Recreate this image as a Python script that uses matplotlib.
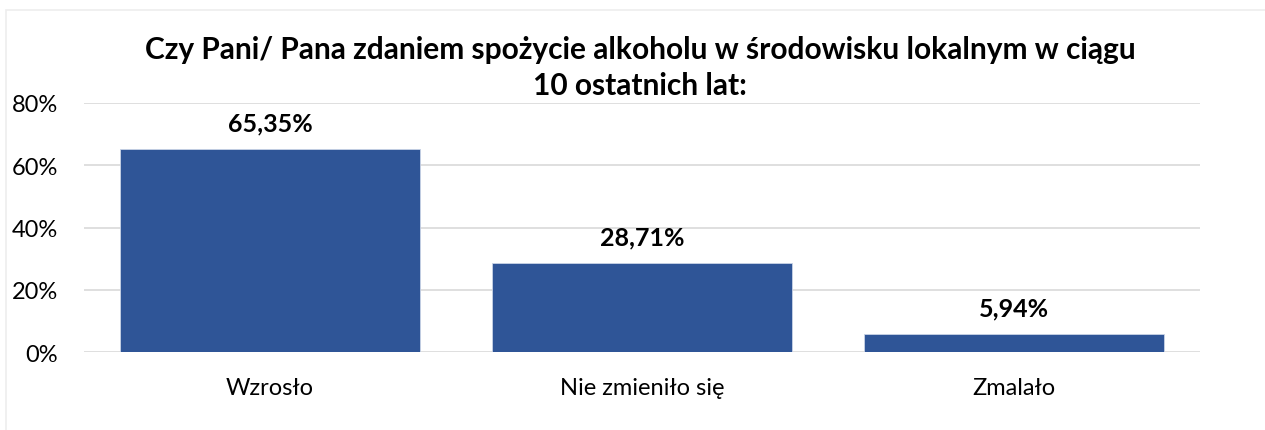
import matplotlib.pyplot as plt
from matplotlib.patches import Rectangle
from matplotlib.ticker import PercentFormatter

# survey data
categories = ['Wzrosło', 'Nie zmieniło się', 'Zmalało']
values = [65.35, 28.71, 5.94]
value_labels = ['65,35%', '28,71%', '5,94%']
title = 'Czy Pani/ Pana zdaniem spożycie alkoholu w środowisku lokalnym w ciągu\n10 ostatnich lat:'

bar_color = '#2F5597'
grid_color = '#D9D9D9'

plt.rcParams['font.family'] = ['Lato', 'DejaVu Sans']

fig = plt.figure(figsize=(12.65, 4.31), dpi=100)
# faint chart frame like the excel export
fig.patches.append(Rectangle((6 / 1265, -0.1), 1.1, 1 - 11 / 431 + 0.1,
                             transform=fig.transFigure, fill=False,
                             edgecolor='#EDEDED', linewidth=1.2))

ax = fig.add_axes([84 / 1265, 1 - 353 / 431, 1116 / 1265, (353 - 104) / 431])

x = range(len(categories))
bars = ax.bar(x, values, width=0.806, color=bar_color, edgecolor='#C9D3E6',
              linewidth=0.6, zorder=3)

for b, lbl in zip(bars, value_labels):
    ax.annotate(lbl, (b.get_x() + b.get_width() / 2, b.get_height()),
                xytext=(0, 13), textcoords='offset points', ha='center',
                va='baseline', fontsize=18, fontweight='bold', color='black')

ax.set_xlim(-0.5, len(categories) - 0.5)
ax.set_ylim(0, 80)
ax.set_yticks([0, 20, 40, 60, 80])
ax.yaxis.set_major_formatter(PercentFormatter(decimals=0))
ax.set_xticks(list(x))
ax.set_xticklabels(categories)
ax.tick_params(axis='both', length=0, labelsize=17, colors='black')
ax.tick_params(axis='y', pad=18.5)
ax.tick_params(axis='x', pad=18)
ax.grid(axis='y', color=grid_color, linewidth=1.2, zorder=0)
for s in ax.spines.values():
    s.set_visible(False)

fig.text(640 / 1265, 1 - 68 / 431, title, ha='center', va='center',
         fontsize=21.5, fontweight='bold', linespacing=1.35)

fig.savefig('out.png', dpi=100)
